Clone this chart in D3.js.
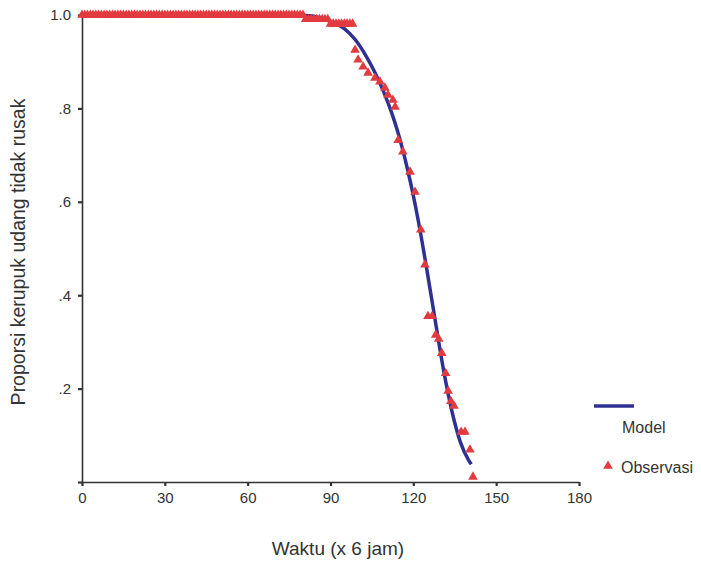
<!DOCTYPE html>
<html>
<head>
<meta charset="utf-8">
<script src="https://cdn.jsdelivr.net/npm/d3@7"></script>
<style>
  body { margin: 0; background: #fff; }
  svg { display: block; }
  text { font-family: 'Liberation Sans', Arial, sans-serif; fill: #333; }
</style>
</head>
<body>
<svg id="chart" width="701" height="562"></svg>
<script>
// Model curve (time in units of 6 hours, proportion not spoiled).
var modelTime = [0, 75, 80, 85, 90, 95, 99, 103, 106, 109, 112, 114, 116, 118, 120, 122, 125, 128, 131, 134, 137, 140, 141];
var modelProp = [1, 1, 0.999, 0.996, 0.986, 0.971, 0.947, 0.911, 0.878, 0.839, 0.793, 0.757, 0.715, 0.667, 0.613, 0.553, 0.451, 0.343, 0.238, 0.151, 0.086, 0.047, 0.038];

// Observed points.
var obsTime = [
  0, 1, 2, 3, 4, 5, 6, 7, 8, 9, 10, 11, 12, 13, 14, 15, 16, 17, 18, 19,
  20, 21, 22, 23, 24, 25, 26, 27, 28, 29, 30, 31, 32, 33, 34, 35, 36, 37, 38, 39,
  40, 41, 42, 43, 44, 45, 46, 47, 48, 49, 50, 51, 52, 53, 54, 55, 56, 57, 58, 59,
  60, 61, 62, 63, 64, 65, 66, 67, 68, 69, 70, 71, 72, 73, 74, 75, 76, 77, 78, 79, 80,
  81, 82, 83, 84, 85, 86, 87, 88, 89,
  90, 91, 92, 93, 94, 95, 96, 97, 98,
  98.9, 100.0, 101.8, 103.6, 106.1, 107.9, 109.7, 110.8, 112.6, 113.4,
  114.5, 116.2, 118.8, 120.6, 122.7, 124.2, 125.3, 126.8, 128.1, 129.2,
  130.3, 131.7, 132.6, 133.6, 134.7, 137.3, 138.7, 140.5, 141.6
];
var obsProp = [
  1, 1, 1, 1, 1, 1, 1, 1, 1, 1, 1, 1, 1, 1, 1, 1, 1, 1, 1, 1,
  1, 1, 1, 1, 1, 1, 1, 1, 1, 1, 1, 1, 1, 1, 1, 1, 1, 1, 1, 1,
  1, 1, 1, 1, 1, 1, 1, 1, 1, 1, 1, 1, 1, 1, 1, 1, 1, 1, 1, 1,
  1, 1, 1, 1, 1, 1, 1, 1, 1, 1, 1, 1, 1, 1, 1, 1, 1, 1, 1, 1, 1,
  0.991, 0.991, 0.991, 0.991, 0.991, 0.991, 0.991, 0.991, 0.991,
  0.981, 0.981, 0.981, 0.981, 0.981, 0.981, 0.981, 0.981, 0.981,
  0.925, 0.904, 0.889, 0.876, 0.865, 0.857, 0.844, 0.829, 0.818, 0.803,
  0.732, 0.707, 0.664, 0.621, 0.540, 0.465, 0.355, 0.355, 0.315, 0.306,
  0.276, 0.233, 0.195, 0.173, 0.163, 0.107, 0.107, 0.069, 0.011
];

var xTicks = [0, 30, 60, 90, 120, 150, 180];
var yTicks = [0, 0.2, 0.4, 0.6, 0.8, 1.0];
var yTickLabels = ['', '.2', '.4', '.6', '.8', '1.0'];

var navy = '#2e3192';
var red = '#e23a3f';
var axisColor = '#333';

var svg = d3.select('#chart');

var x = d3.scaleLinear().domain([0, 180]).range([82, 579]);
var y = d3.scaleLinear().domain([0, 1]).range([482, 15]);

// Axes.
var xAxis = svg.append('g')
    .attr('transform', 'translate(0,' + y(0) + ')')
    .call(d3.axisBottom(x).tickValues(xTicks).tickSize(4).tickSizeOuter(0).tickPadding(6));
var yAxis = svg.append('g')
    .attr('transform', 'translate(' + x(0) + ',0)')
    .call(d3.axisLeft(y).tickValues(yTicks).tickSize(4).tickSizeOuter(0).tickPadding(7)
      .tickFormat(function(d, i) { return yTickLabels[i]; }));

[xAxis, yAxis].forEach(function(g) {
  g.select('.domain').attr('stroke', axisColor).attr('stroke-width', 1.6);
  g.selectAll('.tick line').attr('stroke', axisColor).attr('stroke-width', 2.2);
  g.selectAll('.tick text')
      .style('font-family', "'Liberation Sans', Arial, sans-serif")
      .style('font-size', '15px')
      .attr('fill', '#333');
});

// Model line.
var modelData = modelTime.map(function(t, i) { return {t: t, p: modelProp[i]}; });
var line = d3.line()
    .x(function(d) { return x(d.t); })
    .y(function(d) { return y(d.p); })
    .curve(d3.curveMonotoneX);

svg.append('path')
    .datum(modelData)
    .attr('d', line)
    .attr('fill', 'none')
    .attr('stroke', navy)
    .attr('stroke-width', 3.5)
    .attr('stroke-linejoin', 'round');

// Observation triangles.
var obsData = obsTime.map(function(t, i) { return {t: t, p: obsProp[i]}; });
var tri = d3.symbol().type(d3.symbolTriangle).size(40);

svg.append('g').selectAll('path')
    .data(obsData)
  .enter().append('path')
    .attr('d', tri)
    .attr('transform', function(d) { return 'translate(' + x(d.t) + ',' + y(d.p) + ')'; })
    .attr('fill', red);

// Axis titles.
svg.append('text')
    .attr('x', 338)
    .attr('y', 555)
    .attr('text-anchor', 'middle')
    .style('font-size', '19px')
    .text('Waktu (x 6 jam)');

svg.append('text')
    .attr('transform', 'translate(25,252) rotate(-90)')
    .attr('text-anchor', 'middle')
    .style('font-size', '19.5px')
    .text('Proporsi kerupuk udang tidak rusak');

// Legend.
var legend = svg.append('g');
legend.append('line')
    .attr('x1', 594).attr('x2', 634)
    .attr('y1', 406).attr('y2', 406)
    .attr('stroke', navy)
    .attr('stroke-width', 3.5);
legend.append('text')
    .attr('x', 622)
    .attr('y', 433)
    .style('font-size', '16px')
    .text('Model');
legend.append('path')
    .attr('d', tri)
    .attr('transform', 'translate(608,466)')
    .attr('fill', red);
legend.append('text')
    .attr('x', 621)
    .attr('y', 473)
    .style('font-size', '16px')
    .text('Observasi');
</script>
</body>
</html>
